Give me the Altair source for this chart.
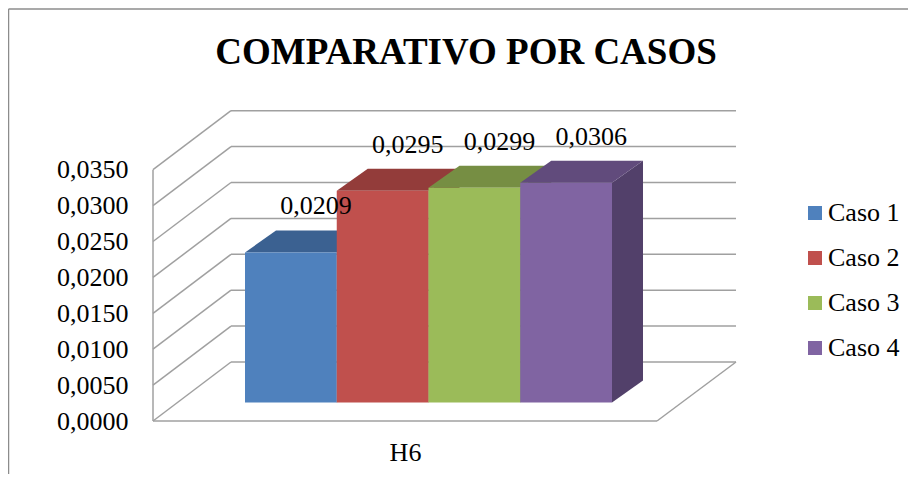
import altair as alt
import pandas as pd

# ---------------- data ----------------
CASOS = ["Caso 1", "Caso 2", "Caso 3", "Caso 4"]
VALUES = [0.0209, 0.0295, 0.0299, 0.0306]
CATEGORY = "H6"
TITLE = "COMPARATIVO POR CASOS"
TICKS = [0.0, 0.005, 0.010, 0.015, 0.020, 0.025, 0.030, 0.035]
FRONT_COLORS = ["#4F81BD", "#C0504D", "#9BBB59", "#8064A2"]
TOP_COLORS = ["#3B6191", "#933C3A", "#768E43", "#614B7C"]
SIDE_COLORS = ["#31517A", "#7A3230", "#627638", "#52406A"]

# ---------------- layout (pixels) ----------------
PLOT_W, PLOT_H = 583, 310
PX_PER_UNIT = 7180.0
U = 1.0 / PX_PER_UNIT          # value units per pixel
Y_MAX = PLOT_H * U
WALL_DX, WALL_DY = 78, 59      # depth of the back wall
FLOOR_W = 504
BAR_X0, BAR_W = 92, 91.75
BAR_DX, BAR_DY = 31, 22        # depth of each bar
BAR_BASE = 18.5                # bars stand this far into the floor
LABEL_DX, LABEL_DY = 25, 46
FONT = "Liberation Serif"
GRID = "#a0a0a0"

xs = alt.Scale(domain=[0, PLOT_W], nice=False, zero=False)
ys = alt.Scale(domain=[0, Y_MAX], nice=False, zero=False)
xaxis = alt.Axis(title=CATEGORY, labels=False, ticks=False, domain=False, grid=False,
                 titleX=FLOOR_W / 2, titleY=39, titleBaseline="alphabetic",
                 titleAlign="center", titleFont=FONT, titleFontSize=26,
                 titleFontWeight="normal", titleColor="black")
yaxis = alt.Axis(title=None, values=TICKS, ticks=False, domain=False, grid=False,
                 labelPadding=25, labelFont=FONT, labelFontSize=26, labelColor="black",
                 labelOverlap=False,
                 labelExpr="replace(format(datum.value, '.4f'), '.', ',')")


def X(f="x"):
    return alt.X(f"{f}:Q", scale=xs, axis=xaxis)


def Y(f="y"):
    return alt.Y(f"{f}:Q", scale=ys, axis=yaxis)


# ---------------- walls & floor ----------------
rows = []
for t in TICKS:
    rows.append(dict(x=WALL_DX, x2=PLOT_W, y=t + WALL_DY * U, y2=t + WALL_DY * U))
    rows.append(dict(x=0, x2=WALL_DX, y=t, y2=t + WALL_DY * U))
rows.append(dict(x=0, x2=0, y=0, y2=TICKS[-1]))
rows.append(dict(x=0, x2=FLOOR_W, y=0, y2=0))
rows.append(dict(x=FLOOR_W, x2=PLOT_W, y=0, y2=WALL_DY * U))
lines_df = pd.DataFrame(rows)

lines = alt.Chart(lines_df).mark_rule(color=GRID, strokeWidth=1.5).encode(
    x=X(), x2="x2:Q", y=Y(), y2="y2:Q")

# ---------------- bars ----------------
bars = []
for i, (c, v) in enumerate(zip(CASOS, VALUES)):
    x0 = BAR_X0 + i * BAR_W
    x1 = x0 + BAR_W
    base = BAR_BASE * U
    top = base + v
    bars.append(dict(caso=c, value=v, x=x0, x2=x1, y=base, y2=top,
                     lx=(x0 + x1) / 2 + LABEL_DX, ly=top + LABEL_DY * U,
                     label=f"{v:.4f}".replace(".", ",")))
bars_df = pd.DataFrame(bars)

layers = []

# outer frame (decoration)
one = pd.DataFrame({"k": [0]})
frame_v = alt.Chart(one).mark_rule(color="#8c8c8c", strokeWidth=1.5).encode(
    x=alt.value(-144.5), y=alt.value(-102), y2=alt.value(400))
frame_h = alt.Chart(one).mark_rule(color="#8c8c8c", strokeWidth=1.5).encode(
    x=alt.value(-144.5), x2=alt.value(800), y=alt.value(-102))
layers += [frame_v, frame_h, lines]

for i, b in enumerate(bars):
    dy = BAR_DY * U
    side_df = pd.DataFrame([
        dict(x=b["x2"], y=b["y"], y2=b["y2"]),
        dict(x=b["x2"] + BAR_DX, y=b["y"] + dy, y2=b["y2"] + dy),
    ])
    top_df = pd.DataFrame([
        dict(x=b["x"], y=b["y2"], y2=b["y2"]),
        dict(x=b["x"] + BAR_DX, y=b["y2"], y2=b["y2"] + dy),
        dict(x=b["x2"], y=b["y2"], y2=b["y2"] + dy),
        dict(x=b["x2"] + BAR_DX, y=b["y2"] + dy, y2=b["y2"] + dy),
    ])
    layers.append(alt.Chart(side_df).mark_area(orient="vertical", color=SIDE_COLORS[i]).encode(
        x=X(), y=Y(), y2="y2:Q"))
    layers.append(alt.Chart(top_df).mark_area(orient="vertical", color=TOP_COLORS[i]).encode(
        x=X(), y=Y(), y2="y2:Q"))

fronts = alt.Chart(bars_df).mark_rect().encode(
    x=X(), x2="x2:Q", y=Y(), y2="y2:Q",
    color=alt.Color("caso:N",
                    scale=alt.Scale(domain=CASOS, range=FRONT_COLORS),
                    legend=alt.Legend(title=None, orient="none", legendX=649, legendY=89,
                                      symbolType="square", symbolSize=196,
                                      symbolStrokeWidth=0, labelFont=FONT,
                                      labelFontSize=26, labelColor="black",
                                      rowPadding=19, labelOffset=0, padding=0)))
layers.append(fronts)

labels = alt.Chart(bars_df).mark_text(font=FONT, fontSize=26, color="black",
                                      baseline="middle", align="center").encode(
    x=X("lx"), y=Y("ly"), text="label:N")
layers.append(labels)

title = alt.Chart(pd.DataFrame({"t": [TITLE]})).mark_text(
    font=FONT, fontSize=37, fontWeight="bold", color="black",
    align="center", baseline="alphabetic").encode(
    text="t:N", x=alt.value(313), y=alt.value(-47))
layers.append(title)

chart = alt.layer(*layers).properties(
    width=PLOT_W, height=PLOT_H,
    autosize=alt.AutoSizeParams(type="none"),
    padding={"left": 145, "top": 103, "right": 172, "bottom": 53},
    background="white",
).configure_view(stroke=None)

chart.save("out.html", embed_options={"renderer": "svg", "actions": False})
